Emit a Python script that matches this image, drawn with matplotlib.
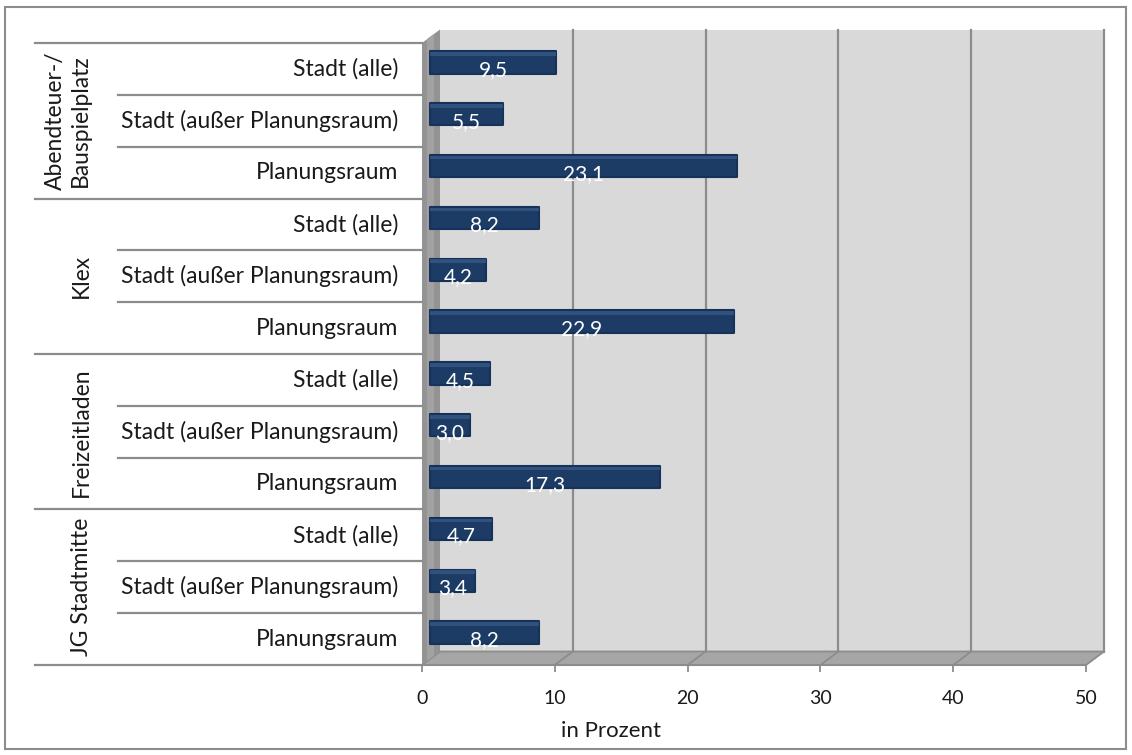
import numpy as np
import matplotlib
matplotlib.use("Agg")
import matplotlib.pyplot as plt
from matplotlib import transforms
from matplotlib.patches import Rectangle, Polygon

# -------------------------------
# DATA
# -------------------------------
groups = ["Abendteuer-/\nBauspielplatz", "Klex", "Freizeitladen", "JG Stadtmitte"]
categories = ["Stadt (alle)", "Stadt (außer Planungsraum)", "Planungsraum"]
values = [9.5, 5.5, 23.1,
          8.2, 4.2, 22.9,
          4.5, 3.0, 17.3,
          4.7, 3.4, 8.2]
xticks = [0, 10, 20, 30, 40, 50]
xlabel = "in Prozent"

plt.rcParams['font.family'] = ['Lato', 'DejaVu Sans']

W, H = 1132, 755
fig = plt.figure(figsize=(W / 100, H / 100), dpi=100)

# front plane of the pseudo 3D box (pixels)
x0, x1 = 422, 1086
y0, y1 = 43, 665
ax = fig.add_axes([x0 / W, 1 - y1 / H, (x1 - x0) / W, (y1 - y0) / H])
n = len(values)
ax.set_xlim(0, 50)
ax.set_ylim(n, 0)
ax.patch.set_visible(False)
for s in ['top', 'right', 'left']:
    ax.spines[s].set_visible(False)
ax.spines['bottom'].set_color('#8c8c8c')
ax.spines['bottom'].set_linewidth(1.5)
ax.set_yticks([])
ax.set_xticks(xticks)
ax.set_xticklabels([str(t) for t in xticks], fontsize=14)
ax.tick_params(axis='x', direction='out', length=5, width=1.3, color='#8c8c8c',
               pad=13, labelcolor='#1a1a1a')

# depth offsets
def shifted(dx, dy):
    return ax.transData + transforms.ScaledTranslation(dx / 100, dy / 100, fig.dpi_scale_trans)

back = shifted(18, 13.5)
mid = shifted(8, 6.5)

# back wall
ax.add_patch(Rectangle((0, 0), 50, n, transform=back, facecolor='#d9d9d9',
                       edgecolor='none', clip_on=False, zorder=0))
for t in xticks[1:]:
    ax.plot([t, t], [0, n], transform=back, color='#8c8c8c', lw=1.6,
            clip_on=False, zorder=1)

# floor and left wall (display coords)
fig.canvas.draw()
def disp(x, y, dx=0, dy=0):
    px, py = ax.transData.transform((x, y))
    return (px + dx, py + dy)

floor = [disp(0, n), disp(50, n), disp(50, n, 18, 13.5), disp(0, n, 18, 13.5)]
ax.add_patch(Polygon(floor, closed=True, transform=None, facecolor='#a6a6a6',
                     edgecolor='#8c8c8c', lw=1.3, clip_on=False, zorder=2))
for t in xticks[1:-1]:
    a = disp(t, n)
    b = disp(t, n, 18, 13.5)
    ax.add_line(plt.Line2D([a[0], b[0]], [a[1], b[1]], transform=None,
                           color='#8c8c8c', lw=1.3, clip_on=False, zorder=2))

wall = [disp(0, 0), disp(0, n), disp(0, n, 18, 13.5), disp(0, 0, 18, 13.5)]
ax.add_patch(Polygon(wall, closed=True, transform=None, facecolor='#939393',
                     edgecolor='none', clip_on=False, zorder=2))
wall_in = [disp(0, 0, 5, 4), disp(0, n, 5, 4), disp(0, n, 12, 9), disp(0, 0, 12, 9)]
ax.add_patch(Polygon(wall_in, closed=True, transform=None, facecolor='#a2a2a2',
                     edgecolor='none', clip_on=False, zorder=2))

# bars
ypos = np.arange(n) + 0.5
bh = 0.43
ax.barh(ypos, values, height=bh, color='#1c3c66', edgecolor='#16325a',
        linewidth=1.5, joinstyle='round', transform=mid, clip_on=False, zorder=4)
ax.barh(ypos - bh / 2 + 0.05, values, height=0.07, color='#3a5c88', linewidth=0,
        alpha=0.7, transform=mid, clip_on=False, zorder=5)

# value labels
lab = shifted(8, 0)
for y, v in zip(ypos, values):
    ax.text(v / 2, y + 0.02, f"{v:.1f}".replace('.', ','), transform=lab,
            ha='center', va='center', color='white', fontsize=15, zorder=6)

# category table on the left
tbl = transforms.blended_transform_factory(fig.transFigure, ax.transData)
line_col = '#8c8c8c'
for i in range(n + 1):
    start = 35 if i % 3 == 0 else 118
    ax.plot([start / W, x0 / W], [i, i], transform=tbl, color=line_col, lw=1.6,
            clip_on=False, zorder=3)

for i, y in enumerate(ypos):
    ax.text(398 / W, y, categories[i % 3], transform=tbl, ha='right', va='center',
            fontsize=16.5, color='#1a1a1a')

for g, name in enumerate(groups):
    gx = 68 if '\n' in name else 81
    ax.text(gx / W, 3 * g + 1.5, name, transform=tbl, ha='center', va='center',
            rotation=90, fontsize=16.5, color='#1a1a1a', linespacing=1.2,
            multialignment='center')

fig.text(611 / W, 1 - 731 / H, xlabel, ha='center', va='center', fontsize=16,
         color='#1a1a1a')

# outer frame
fig.patches.append(Rectangle((5 / W, 1 - 749 / H), 1121 / W, 742 / H,
                             transform=fig.transFigure, fill=False,
                             edgecolor='#8c8c8c', lw=1.5))

fig.savefig("out.png", dpi=100)
